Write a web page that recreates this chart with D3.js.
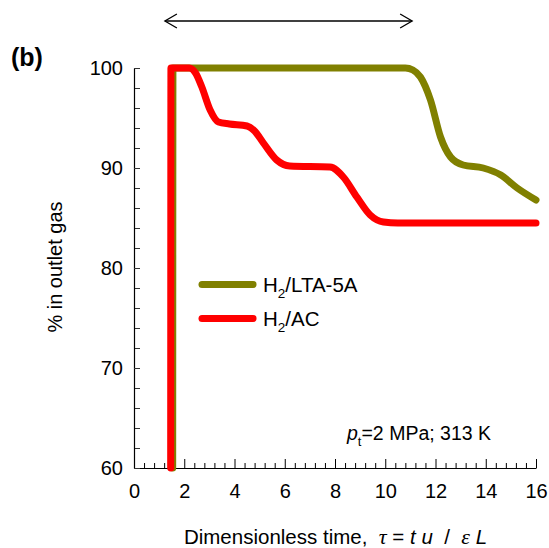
<!DOCTYPE html>
<html>
<head>
<meta charset="utf-8">
<script src="https://cdn.jsdelivr.net/npm/d3@7"></script>
<style>
  html, body { margin: 0; padding: 0; background: #fff; }
  svg { display: block; font-family: "Liberation Sans", Arial, sans-serif; }
</style>
</head>
<body>
<svg id="chart" width="549" height="548"></svg>
<script>
// Outlet-gas composition vs. dimensionless time
const seriesNames = ["H2/LTA-5A", "H2/AC"];
const seriesColors = ["#808000", "#ff0000"];

// H2 on LTA-5A: breakthrough at tau≈1.5, plateau at 100 %, roll-up after tau≈11
const tauLTA = [1.54, 1.55, 10.8, 11.1, 11.4, 11.8, 12.2, 12.6, 13.1, 13.9, 14.6, 15.25, 16.0];
const pctLTA = [60.0, 100.0, 100.0, 99.8, 99.1, 96.8, 93.1, 91.1, 90.3, 90.0, 89.3, 88.0, 86.8];

// H2 on activated carbon: three successive steps down to ≈84.6 %
const tauAC = [1.46, 1.47, 2.2, 2.45, 2.7, 3.03, 3.36, 3.8, 4.5, 4.8, 5.15, 5.68, 6.2, 7.8, 8.33, 8.87, 9.4, 9.93, 10.5, 16.0];
const pctAC = [60.0, 100.0, 100.0, 99.5, 98.1, 95.8, 94.6, 94.4, 94.2, 93.7, 92.5, 90.8, 90.2, 90.1, 89.1, 87.1, 85.3, 84.6, 84.5, 84.5];

const xMajorTicks = [0, 2, 4, 6, 8, 10, 12, 14, 16];
const yMajorTicks = [60, 70, 80, 90, 100];

const svg = d3.select("#chart");
const margin = { left: 134, right: 13, top: 68, bottom: 80 };
const W = 549, H = 548;
const FONT = "Liberation Sans, Arial, sans-serif";
const SERIF = "Liberation Serif, Times New Roman, serif";

const x = d3.scaleLinear().domain([0, 16]).range([margin.left, W - margin.right]);
const y = d3.scaleLinear().domain([60, 100]).range([H - margin.bottom, margin.top]);

// x axis: minor ticks every 0.4, major every 2, all pointing inward
const xMinor = d3.range(0, 41).map(i => +(i * 0.4).toFixed(2)).filter(v => v <= 16 && Math.abs(v / 2 - Math.round(v / 2)) > 1e-6);
svg.append("g")
  .attr("transform", `translate(0,${y(60)})`)
  .call(d3.axisBottom(x).tickValues(xMinor).tickSize(-5).tickFormat("").tickSizeOuter(0))
  .call(g => g.select(".domain").remove())
  .call(g => g.selectAll("line").attr("stroke", "#000").attr("stroke-width", 1));
svg.append("g")
  .attr("transform", `translate(0,${y(60)})`)
  .call(d3.axisBottom(x).tickValues(xMajorTicks).tickSize(-9).tickSizeOuter(0).tickPadding(16).tickFormat(d3.format("d")))
  .call(g => g.select(".domain").attr("stroke", "#000").attr("stroke-width", 1.2))
  .call(g => g.selectAll("line").attr("stroke", "#000").attr("stroke-width", 1))
  .call(g => g.selectAll("text").attr("font-size", 20).attr("fill", "#000").attr("font-family", FONT));

// y axis: ticks every 2 %, labels every 10 %
const yMinor = d3.range(60, 101, 2).filter(v => v % 10 !== 0);
svg.append("g")
  .attr("transform", `translate(${x(0)},0)`)
  .call(d3.axisLeft(y).tickValues(yMinor).tickSize(-6).tickFormat("").tickSizeOuter(0))
  .call(g => g.select(".domain").remove())
  .call(g => g.selectAll("line").attr("stroke", "#333").attr("stroke-width", 1));
svg.append("g")
  .attr("transform", `translate(${x(0)},0)`)
  .call(d3.axisLeft(y).tickValues(yMajorTicks).tickSize(-6).tickSizeOuter(0).tickPadding(11).tickFormat(d3.format("d")))
  .call(g => g.select(".domain").attr("stroke", "#000").attr("stroke-width", 1.2))
  .call(g => g.selectAll("line").attr("stroke", "#333").attr("stroke-width", 1))
  .call(g => g.selectAll("text").attr("font-size", 20).attr("fill", "#000").attr("font-family", FONT));

// curves
const line = d3.line().x(d => x(d[0])).y(d => y(d[1])).curve(d3.curveMonotoneX);
const series = [
  d3.zip(tauLTA, pctLTA),
  d3.zip(tauAC, pctAC)
];
series.forEach((pts, i) => {
  svg.append("path")
    .datum(pts)
    .attr("d", line)
    .attr("fill", "none")
    .attr("stroke", seriesColors[i])
    .attr("stroke-width", 7)
    .attr("stroke-linecap", "round")
    .attr("stroke-linejoin", "round");
});

// legend
const legend = svg.append("g").attr("transform", "translate(202,284.5)");
seriesNames.forEach((name, i) => {
  const row = legend.append("g").attr("transform", `translate(0,${i * 34})`);
  row.append("line").attr("x1", 0).attr("x2", 51).attr("y1", 0).attr("y2", 0)
    .attr("stroke", seriesColors[i]).attr("stroke-width", 7).attr("stroke-linecap", "round");
  const [head, tail] = name.split("2");
  const t = row.append("text").attr("x", 61).attr("y", 7.5).attr("font-size", 20.5).attr("fill", "#000");
  t.append("tspan").text(head);
  t.append("tspan").attr("font-size", 13.5).attr("dy", 6).text("2");
  t.append("tspan").attr("dy", -6).text(tail);
});

// operating conditions
const cond = svg.append("text").attr("x", 347).attr("y", 440).attr("font-size", 19.5).attr("fill", "#000");
cond.append("tspan").attr("font-style", "italic").text("p");
cond.append("tspan").attr("font-size", 13).attr("dy", 6).text("t");
cond.append("tspan").attr("dy", -6).text("=2 MPa; 313 K");

// axis titles
svg.append("text")
  .attr("transform", "translate(62,267) rotate(-90)")
  .attr("text-anchor", "middle").attr("font-size", 20).attr("fill", "#000")
  .text("% in outlet gas");

const xt = svg.append("text").attr("x", 335.5).attr("y", 544).attr("text-anchor", "middle").attr("font-size", 20.5).attr("fill", "#000").attr("xml:space", "preserve");
xt.append("tspan").text("Dimensionless time,  ");
xt.append("tspan").attr("font-family", SERIF).attr("font-style", "italic").attr("font-size", 22).text("τ");
xt.append("tspan").text(" = ");
xt.append("tspan").attr("font-style", "italic").text("t u");
xt.append("tspan").text("  /  ");
xt.append("tspan").attr("font-family", SERIF).attr("font-style", "italic").attr("font-size", 22).text("ε");
xt.append("tspan").attr("font-style", "italic").text(" L");

// panel label
svg.append("text").attr("x", 11).attr("y", 66).attr("font-size", 25).attr("font-weight", "bold").attr("fill", "#000").text("(b)");

// double-headed arrow marking the span above the plot
const ay = 21, ax1 = x(1.23), ax2 = x(11.07);
const arrow = svg.append("g").attr("stroke", "#000").attr("stroke-width", 1.3).attr("fill", "none");
arrow.append("line").attr("x1", ax1).attr("x2", ax2).attr("y1", ay).attr("y2", ay);
arrow.append("path").attr("d", `M${ax1 + 12},${ay - 7} L${ax1},${ay} L${ax1 + 12},${ay + 7}`);
arrow.append("path").attr("d", `M${ax2 - 12},${ay - 7} L${ax2},${ay} L${ax2 - 12},${ay + 7}`);
</script>
</body>
</html>
